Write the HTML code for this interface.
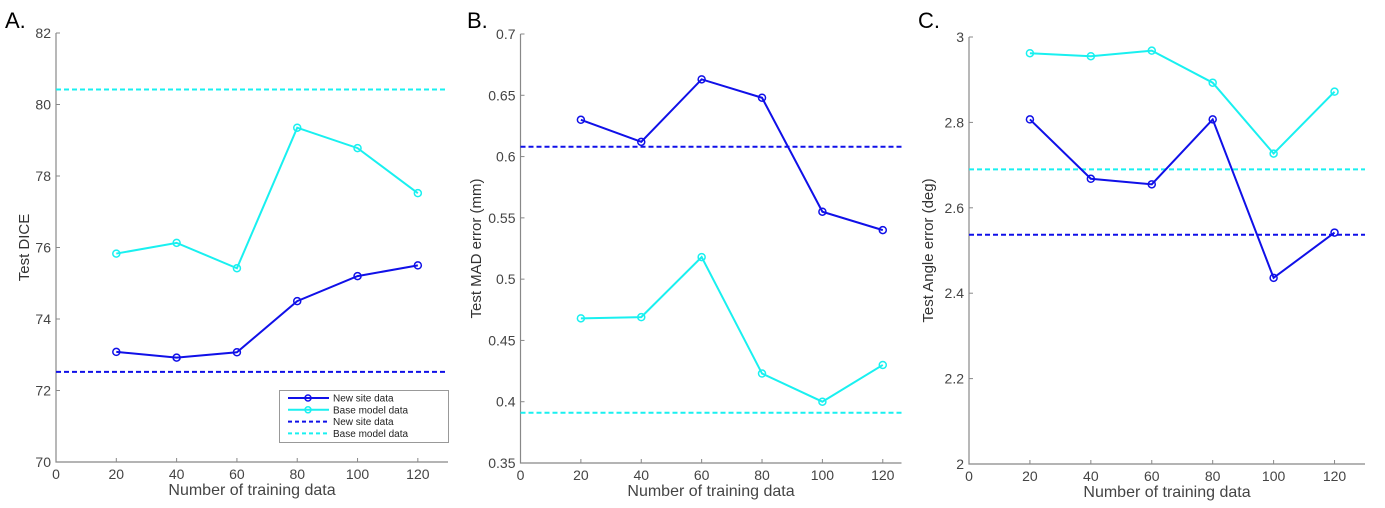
<!DOCTYPE html>
<html><head><meta charset="utf-8"><style>
body{margin:0;background:#fff}
svg{font-family:"Liberation Sans",sans-serif}
</style></head><body>
<svg id="s" width="1385" height="503"></svg>
<script>
const xCats=[20,40,60,80,100,120];
const aNew=[73.08,72.92,73.07,74.5,75.2,75.5];
const aBase=[75.83,76.13,75.42,79.35,78.78,77.52];
const aRef=[72.52,80.42];
const bNew=[0.63,0.612,0.663,0.648,0.555,0.540];
const bBase=[0.468,0.469,0.518,0.423,0.400,0.430];
const bRef=[0.608,0.391];
const cNew=[2.807,2.668,2.655,2.807,2.436,2.542];
const cBase=[2.962,2.955,2.968,2.893,2.727,2.872];
const cRef=[2.537,2.690];
const aTicks=["70","72","74","76","78","80","82"];
const bTicks=["0.35","0.4","0.45","0.5","0.55","0.6","0.65","0.7"];
const cTicks=["2","2.2","2.4","2.6","2.8","3"];
const xTicks=[0,20,40,60,80,100,120];
const NS="http://www.w3.org/2000/svg",S=document.getElementById('s');
function el(t,a,p){const e=document.createElementNS(NS,t);for(const k in a)e.setAttribute(k,a[k]);(p||S).appendChild(e);return e;}
const BLUE="#1010e8",CYAN="#19f0f0";
function panel(o){
 const g=el('g',{});
 
 
 const X=v=>o.l+(v/o.xmax)*(o.r-o.l);
 const Y=v=>o.b-(v-o.ymin)/(o.ymax-o.ymin)*(o.b-o.t);
 const ax=el('path',{d:`M${o.l},${o.t}V${o.b}H${o.r}`,stroke:'#888',fill:'none','stroke-width':1.2},g);
 
 o.yt.forEach(s=>{const v=parseFloat(s),y=Y(v);
  el('line',{x1:o.l,x2:o.l+4,y1:y,y2:y,stroke:'#888'},g);
  const t=el('text',{x:o.l-5,y:y+5,'text-anchor':'end','font-size':14,fill:'#444'},g);t.textContent=s;
  });
 xTicks.forEach(v=>{const x=X(v);
  el('line',{x1:x,x2:x,y1:o.b,y2:o.b-4,stroke:'#888'},g);
  const t=el('text',{x:x,y:o.b+17,'text-anchor':'middle','font-size':14,fill:'#444'},g);t.textContent=v;
  });
 const xl=el('text',{x:(o.l+o.r)/2,y:o.b+33,'text-anchor':'middle','font-size':16,fill:'#444'},g);xl.textContent='Number of training data';
 
 const yl=el('text',{transform:`translate(${o.yx},${(o.t+o.b)/2}) rotate(-90)`,'text-anchor':'middle','font-size':15,fill:'#333'},g);yl.textContent=o.ylab;
 
 const lt=el('text',{x:o.lx,y:28,'font-size':22,fill:'#000'},g);lt.textContent=o.letter;
 
 o.refs.forEach(([v,c])=>{const y=Y(v);const d=el('line',{x1:o.l,x2:o.r,y1:y,y2:y,stroke:c,'stroke-width':2,'stroke-dasharray':'5,3'},g);
  });
 o.series.forEach(([vals,c,n])=>{
  const p=el('polyline',{points:vals.map((v,i)=>X(xCats[i])+','+Y(v)).join(' '),fill:'none',stroke:c,'stroke-width':2},g);
  
  vals.forEach((v,i)=>{const m=el('circle',{cx:X(xCats[i]),cy:Y(v),r:3.5,fill:'none',stroke:c,'stroke-width':1.5},g);
   });
 });
}
panel({name:'panel-a',letter:'A.',lx:5,l:56,r:448,t:33,b:462,xmax:130,ymin:70,ymax:82,yt:aTicks,ylab:'Test DICE',yx:29,
 refs:[[aRef[0],BLUE],[aRef[1],CYAN]],series:[[aBase,CYAN,'base-model-line'],[aNew,BLUE,'new-site-line']]});
panel({name:'panel-b',letter:'B.',lx:467,l:520.5,r:901.5,t:34,b:463,xmax:126.2,ymin:0.35,ymax:0.7,yt:bTicks,ylab:'Test MAD error (mm)',yx:481,
 refs:[[bRef[0],BLUE],[bRef[1],CYAN]],series:[[bBase,CYAN,'base-model-line'],[bNew,BLUE,'new-site-line']]});
panel({name:'panel-c',letter:'C.',lx:918,l:969,r:1365,t:37,b:464,xmax:130,ymin:2,ymax:3,yt:cTicks,ylab:'Test Angle error (deg)',yx:933,
 refs:[[cRef[0],BLUE],[cRef[1],CYAN]],series:[[cBase,CYAN,'base-model-line'],[cNew,BLUE,'new-site-line']]});
const lg=el('g',{});


el('rect',{x:279.5,y:390.5,width:169,height:52,fill:'#fff',stroke:'#999'},lg);
[['New site data',BLUE,0],['Base model data',CYAN,0],['New site data',BLUE,1],['Base model data',CYAN,1]].forEach(([t,c,d],i)=>{
 const y=398+i*11.8;
 const ln=el('line',{x1:288,x2:329,y1:y,y2:y,stroke:c,'stroke-width':2,'stroke-dasharray':d?'4,3':'none'},lg);
 
 if(!d)el('circle',{cx:308,cy:y,r:3,fill:'none',stroke:c,'stroke-width':1.5},lg);
 const tx=el('text',{x:333,y:y+3.5,'font-size':10,fill:'#222'},lg);tx.textContent=t;
 
});
</script>
</body></html>
